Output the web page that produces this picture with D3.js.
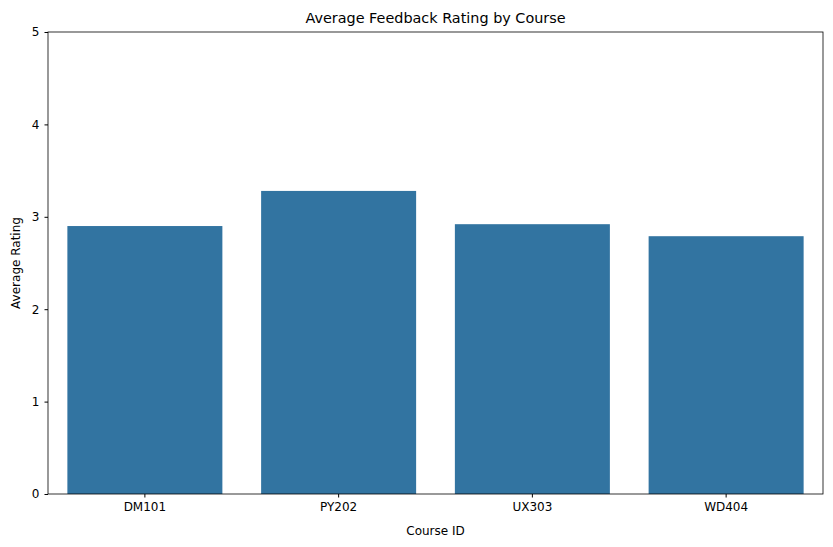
<!DOCTYPE html>
<html><head><meta charset="utf-8">
<script src="https://cdn.jsdelivr.net/npm/d3@7"></script>
<style>body{margin:0;background:#fff}text{font-family:"DejaVu Sans",sans-serif}</style>
</head><body>
<svg id="chart" width="833" height="547"></svg>
<script>
var courses = ["DM101", "PY202", "UX303", "WD404"];
var ratings = [2.90, 3.28, 2.92, 2.79];
var yTicks = [0, 1, 2, 3, 4, 5];

var svg = d3.select("#chart"),
    m = {left: 48, right: 10, top: 32, bottom: 53},
    w = 833 - m.left - m.right,
    h = 547 - m.top - m.bottom;

var g = svg.append("g").attr("transform", "translate(" + m.left + "," + m.top + ")");

var x = d3.scaleBand().domain(courses).range([0, w]).paddingInner(0.2).paddingOuter(0.1);
var y = d3.scaleLinear().domain([0, 5]).range([h, 0]);

g.selectAll("rect")
    .data(courses)
    .enter()
    .append("rect")
        .attr("x", function(d) { return x(d); })
        .attr("y", function(d, i) { return y(ratings[i]); })
        .attr("width", x.bandwidth())
        .attr("height", function(d, i) { return h - y(ratings[i]); })
        .attr("fill", "#3274a1");

var xa = g.append("g").attr("transform", "translate(0," + h + ")")
    .call(d3.axisBottom(x).tickSize(3.5).tickPadding(5));
var ya = g.append("g").call(d3.axisLeft(y).tickValues(yTicks).tickFormat(d3.format("d")).tickSize(3.5).tickPadding(5));
[xa, ya].forEach(function(a) {
    a.select(".domain").remove();
    a.selectAll("text").attr("font-size", 12).attr("fill", "#000").attr("font-family", "DejaVu Sans");
    a.selectAll("line").attr("stroke", "#000");
});

g.append("rect").attr("width", w).attr("height", h)
    .attr("fill", "none").attr("stroke", "#000").attr("stroke-width", 0.8);

svg.append("text").attr("x", m.left + w / 2).attr("y", 23)
    .attr("text-anchor", "middle").attr("font-size", 14.4).text("Average Feedback Rating by Course");
svg.append("text").attr("x", m.left + w / 2).attr("y", 535)
    .attr("text-anchor", "middle").attr("font-size", 12).text("Course ID");
svg.append("text").attr("transform", "translate(20," + (m.top + h / 2) + ") rotate(-90)")
    .attr("text-anchor", "middle").attr("font-size", 12).text("Average Rating");
</script>
</body></html>
